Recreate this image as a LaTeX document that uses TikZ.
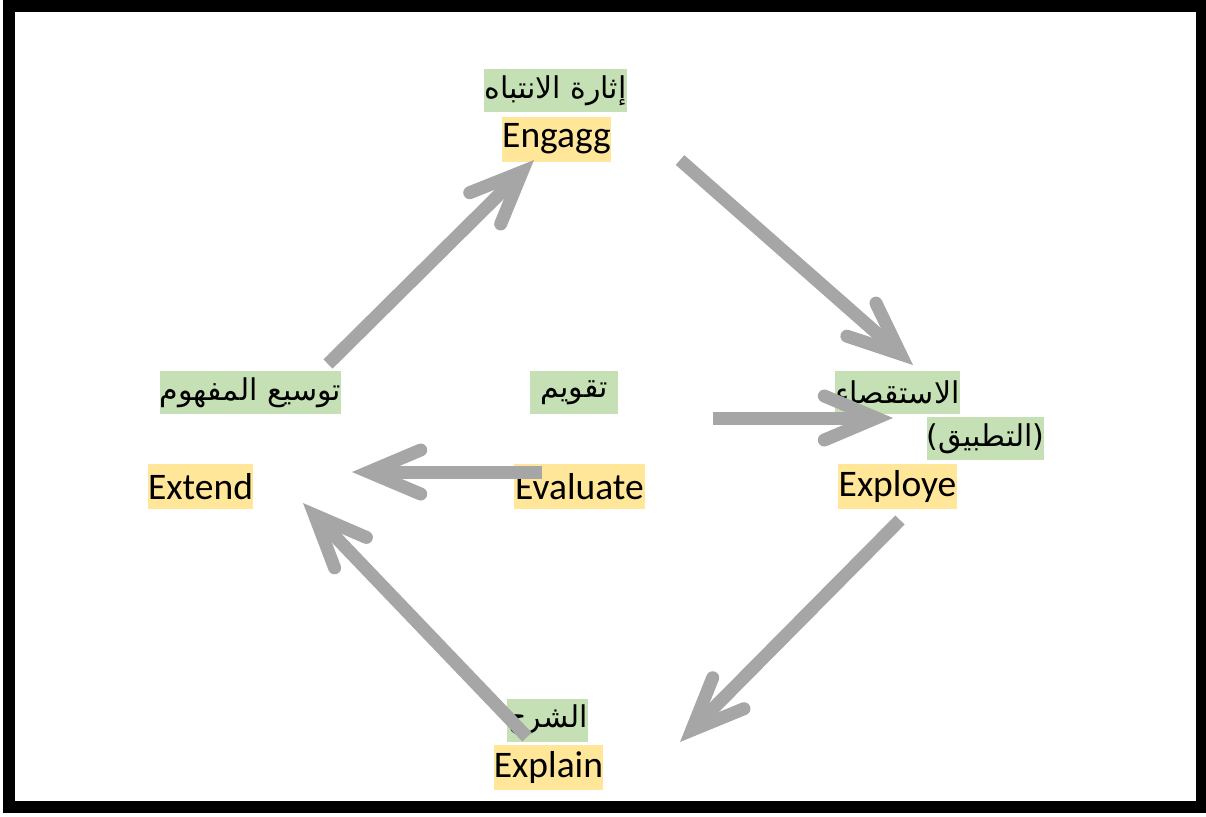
\documentclass[tikz,border=0pt]{standalone}
\usepackage{fontspec}
\setmainfont{Carlito}
\newfontfamily\arabicfont[Script=Arabic]{DejaVu Sans}
\TeXXeTstate=1
\usetikzlibrary{arrows.meta}
\definecolor{boxgreen}{HTML}{C5E0B4}
\definecolor{boxyellow}{HTML}{FFE699}
\definecolor{arrowgray}{HTML}{A6A6A6}
\tikzset{
    mynodeg/.style = {rectangle, inner sep=0pt, fill=boxgreen, minimum height=21.5pt, font=\arabicfont\fontsize{15}{18}\selectfont, text=black},
    mynodey/.style = {rectangle, inner sep=0pt, fill=boxyellow, minimum height=22.5pt, font=\fontsize{18.75}{22}\selectfont, text=black},
    edgeg/.style = {-{Straight Barb[length=26pt,width=22pt,line cap=round,line join=miter]}, line width=6.5pt, arrowgray},
    framed/.style = {line width=6pt, black}
}

\begin{document}
\begin{tikzpicture}[x=0.5pt, y=-0.5pt]
  \useasboundingbox (0,0) rectangle (1206,816);
  \draw[framed] (9,6) rectangle (1202,807);

  % labels
  \node[mynodeg, minimum width=69.5pt] (engAr) at (555.5,90.5) {\beginR إثارة الانتباه\endR};
  \node[mynodey, minimum width=54.5pt] (engEn) at (556.5,139) {Engagg};
  \node[mynodeg, minimum width=61.5pt] (exploreAr) at (897.5,392.5) {\beginR الاستقصاء\endR};
  \node[mynodeg, minimum width=55.5pt] (applyAr) at (985.5,438.5) {\beginR (التطبيق)\endR};
  \node[mynodey, minimum width=59.5pt] (exploreEn) at (897.5,486.5) {Exploye};
  \node[mynodeg, minimum width=82.5pt] (extendAr) at (250.5,392.5) {\beginR توسيع المفهوم\endR};
  \node[mynodey, minimum width=52.5pt] (extendEn) at (200.5,486.5) {Extend};
  \node[mynodeg, minimum width=44pt] (evalAr) at (574,392.5) {\beginR تقويم\endR};
  \node[mynodey, minimum width=65.5pt] (evalEn) at (579.5,486.5) {Evaluate};
  \node[mynodeg, minimum width=37.5pt] (explainAr) at (547.5,720) {\beginR الشرح\endR};
  \node[mynodey, minimum width=54.5pt] (explainEn) at (548.5,767) {Explain};

  % arrow ends
  \coordinate (extTail) at (328,364);
  \coordinate (engHead) at (534,160);
  \coordinate (engTail) at (680,160);
  \coordinate (expHead) at (913,365);
  \coordinate (evaTailR) at (713,418);
  \coordinate (evaHeadR) at (893,418);
  \coordinate (evaTailL) at (542,472);
  \coordinate (evaHeadL) at (352,472);
  \coordinate (expTail) at (900,520);
  \coordinate (expnHead) at (680,742);
  \coordinate (expnTail) at (527,737);
  \coordinate (extHead) at (303,503);

  \draw[edgeg] (extTail) -- (engHead);
  \draw[edgeg] (engTail) -- (expHead);
  \draw[edgeg] (evaTailR) -- (evaHeadR);
  \draw[edgeg] (evaTailL) -- (evaHeadL);
  \draw[edgeg] (expTail) -- (expnHead);
  \draw[edgeg] (expnTail) -- (extHead);
\end{tikzpicture}
\end{document}
